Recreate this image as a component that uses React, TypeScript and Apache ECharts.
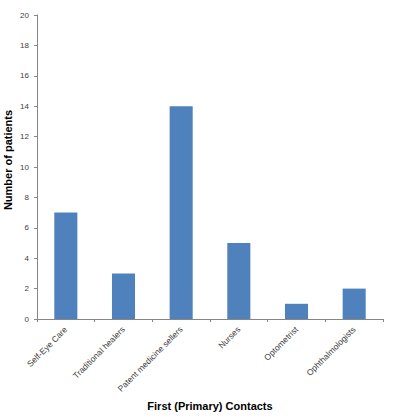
import React, { useEffect, useRef } from "react";
import * as echarts from "echarts";

const categories = [
  "Self-Eye Care",
  "Traditional healers",
  "Patent medicine sellers",
  "Nurses",
  "Optometrist",
  "Ophthalmologists",
];
const patients = [7, 3, 14, 5, 1, 2];
const yTicks = { min: 0, max: 20, interval: 2 };
const yAxisTitle = "Number of patients";
const xAxisTitle = "First (Primary) Contacts";

export default function App() {
  const ref = useRef<HTMLDivElement>(null);
  useEffect(() => {
    const chart = echarts.init(ref.current!, undefined, { renderer: "svg" });
    const font = "Liberation Sans";
    chart.setOption({
      animation: false,
      grid: { left: 37, right: 15, top: 15, bottom: 100, containLabel: false, outerBoundsMode: "none" },
      graphic: [
        {
          type: "text",
          x: 8,
          y: 160,
          rotation: Math.PI / 2,
          style: {
            text: yAxisTitle,
            fontFamily: font,
            fontWeight: "bold",
            fontSize: 11,
            fill: "#000",
            align: "center",
            verticalAlign: "middle",
          },
        },
      ],
      xAxis: {
        type: "category",
        data: categories,
        name: xAxisTitle,
        nameLocation: "middle",
        nameGap: 81,
        nameTextStyle: { fontFamily: font, fontWeight: "bold", fontSize: 11, color: "#000" },
        axisLine: { lineStyle: { color: "#868686", width: 1 } },
        axisTick: { show: true, alignWithLabel: false, length: 3, lineStyle: { color: "#868686" } },
        axisLabel: {
          rotate: 45,
          interval: 0,
          fontFamily: font,
          fontSize: 8.5,
          color: "#404040",
          margin: 9,
        },
      },
      yAxis: {
        type: "value",
        min: yTicks.min,
        max: yTicks.max,
        interval: yTicks.interval,
        axisLine: { show: true, lineStyle: { color: "#868686", width: 1 } },
        axisTick: { show: true, length: 3, lineStyle: { color: "#868686" } },
        splitLine: { show: false },
        axisLabel: { fontFamily: font, fontSize: 8, color: "#404040", margin: 8 },
      },
      series: [
        {
          type: "bar",
          data: patients,
          barWidth: "40%",
          itemStyle: { color: "#4F81BD" },
        },
      ],
    });
    return () => chart.dispose();
  }, []);
  return <div ref={ref} style={{ width: 398, height: 419, position: "absolute", left: 0, top: 0 }} />;
}
